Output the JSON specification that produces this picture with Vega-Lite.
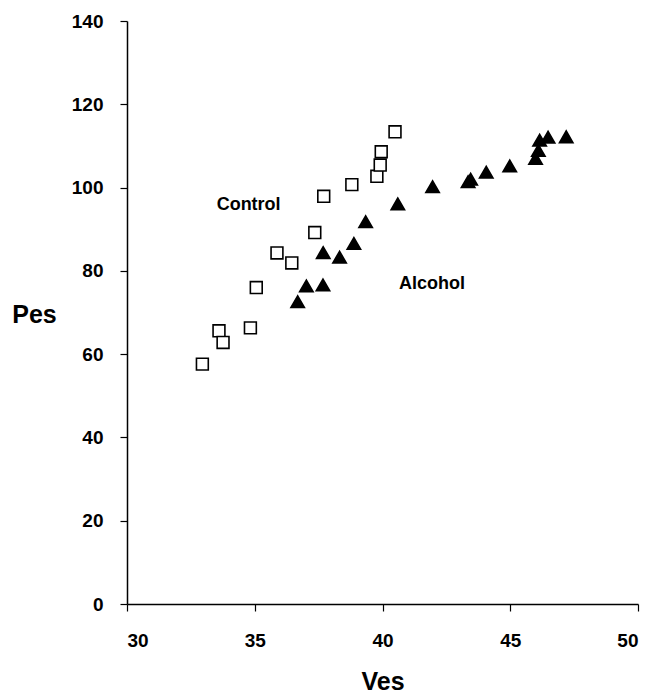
{
  "$schema": "https://vega.github.io/schema/vega-lite/v6.json",
  "autosize": {"type": "none"},
  "padding": {"left": 127, "top": 21, "right": 15, "bottom": 92},
  "width": 511,
  "height": 583,
  "background": "white",
  "config": {
    "view": {"stroke": null},
    "font": "Liberation Sans",
    "axis": {
      "grid": false,
      "domainColor": "#000",
      "domainWidth": 1.5,
      "tickColor": "#000",
      "tickWidth": 1.2,
      "tickSize": 7,
      "labelFont": "Liberation Sans",
      "labelFontWeight": "bold",
      "labelFontSize": 19,
      "labelColor": "#000",
      "titleFont": "Liberation Sans",
      "titleFontWeight": "bold",
      "titleFontSize": 25,
      "titleColor": "#000"
    }
  },
  "datasets": {
    "points": [
      {"group": "Control", "Ves": 32.95, "Pes": 57.6},
      {"group": "Control", "Ves": 33.6, "Pes": 65.6},
      {"group": "Control", "Ves": 33.76, "Pes": 62.8},
      {"group": "Control", "Ves": 34.83, "Pes": 66.3},
      {"group": "Control", "Ves": 35.06, "Pes": 76.0},
      {"group": "Control", "Ves": 35.87, "Pes": 84.3},
      {"group": "Control", "Ves": 36.45, "Pes": 81.9},
      {"group": "Control", "Ves": 37.35, "Pes": 89.2},
      {"group": "Control", "Ves": 37.7, "Pes": 97.9},
      {"group": "Control", "Ves": 38.8, "Pes": 100.7},
      {"group": "Control", "Ves": 39.78, "Pes": 102.7},
      {"group": "Control", "Ves": 39.91, "Pes": 105.4},
      {"group": "Control", "Ves": 39.95, "Pes": 108.6},
      {"group": "Control", "Ves": 40.49, "Pes": 113.4},
      {"group": "Alcohol", "Ves": 36.68, "Pes": 72.6},
      {"group": "Alcohol", "Ves": 37.02, "Pes": 76.4},
      {"group": "Alcohol", "Ves": 37.67, "Pes": 76.6},
      {"group": "Alcohol", "Ves": 37.68, "Pes": 84.4},
      {"group": "Alcohol", "Ves": 38.32, "Pes": 83.3},
      {"group": "Alcohol", "Ves": 38.88, "Pes": 86.6},
      {"group": "Alcohol", "Ves": 39.34, "Pes": 91.8},
      {"group": "Alcohol", "Ves": 40.6, "Pes": 96.1},
      {"group": "Alcohol", "Ves": 41.96, "Pes": 100.2},
      {"group": "Alcohol", "Ves": 43.35, "Pes": 101.4},
      {"group": "Alcohol", "Ves": 43.45, "Pes": 102.0},
      {"group": "Alcohol", "Ves": 44.06, "Pes": 103.7},
      {"group": "Alcohol", "Ves": 44.98, "Pes": 105.2},
      {"group": "Alcohol", "Ves": 45.99, "Pes": 107.0},
      {"group": "Alcohol", "Ves": 46.1, "Pes": 108.9},
      {"group": "Alcohol", "Ves": 46.15, "Pes": 111.4},
      {"group": "Alcohol", "Ves": 46.48, "Pes": 112.1},
      {"group": "Alcohol", "Ves": 47.19, "Pes": 112.2}
    ],
    "labels": [
      {"label": "Control", "Ves": 34.76, "Pes": 95.8},
      {"label": "Alcohol", "Ves": 41.94, "Pes": 76.8}
    ]
  },
  "layer": [
    {
      "data": {"name": "points"},
      "mark": {"type": "point", "filled": false, "strokeWidth": 1.6, "opacity": 1},
      "encoding": {
        "x": {
          "field": "Ves", "type": "quantitative",
          "scale": {"domain": [30, 50], "nice": false, "zero": false},
          "axis": {"values": [30, 35, 40, 45, 50], "labelPadding": 20, "title": "Ves", "titleY": 85, "titleBaseline": "alphabetic"}
        },
        "y": {
          "field": "Pes", "type": "quantitative",
          "scale": {"domain": [0, 140], "nice": false},
          "axis": {"values": [0, 20, 40, 60, 80, 100, 120, 140], "labelPadding": 17, "title": "Pes", "titleAngle": 0, "titleAlign": "center", "titleBaseline": "alphabetic", "titleX": -93, "titleY": 301}
        },
        "shape": {
          "field": "group", "type": "nominal",
          "scale": {"domain": ["Control", "Alcohol"], "range": ["square", "triangle-up"]},
          "legend": null
        },
        "fill": {
          "field": "group", "type": "nominal",
          "scale": {"domain": ["Control", "Alcohol"], "range": ["#ffffff", "#000000"]},
          "legend": null
        },
        "stroke": {"value": "#000000"},
        "size": {
          "field": "group", "type": "nominal",
          "scale": {"domain": ["Control", "Alcohol"], "range": [140, 180]},
          "legend": null
        }
      }
    },
    {
      "data": {"name": "labels"},
      "mark": {"type": "text", "font": "Liberation Sans", "fontWeight": "bold", "fontSize": 18, "align": "center", "baseline": "middle", "color": "#000"},
      "encoding": {
        "x": {"field": "Ves", "type": "quantitative"},
        "y": {"field": "Pes", "type": "quantitative"},
        "text": {"field": "label"}
      }
    }
  ]
}
